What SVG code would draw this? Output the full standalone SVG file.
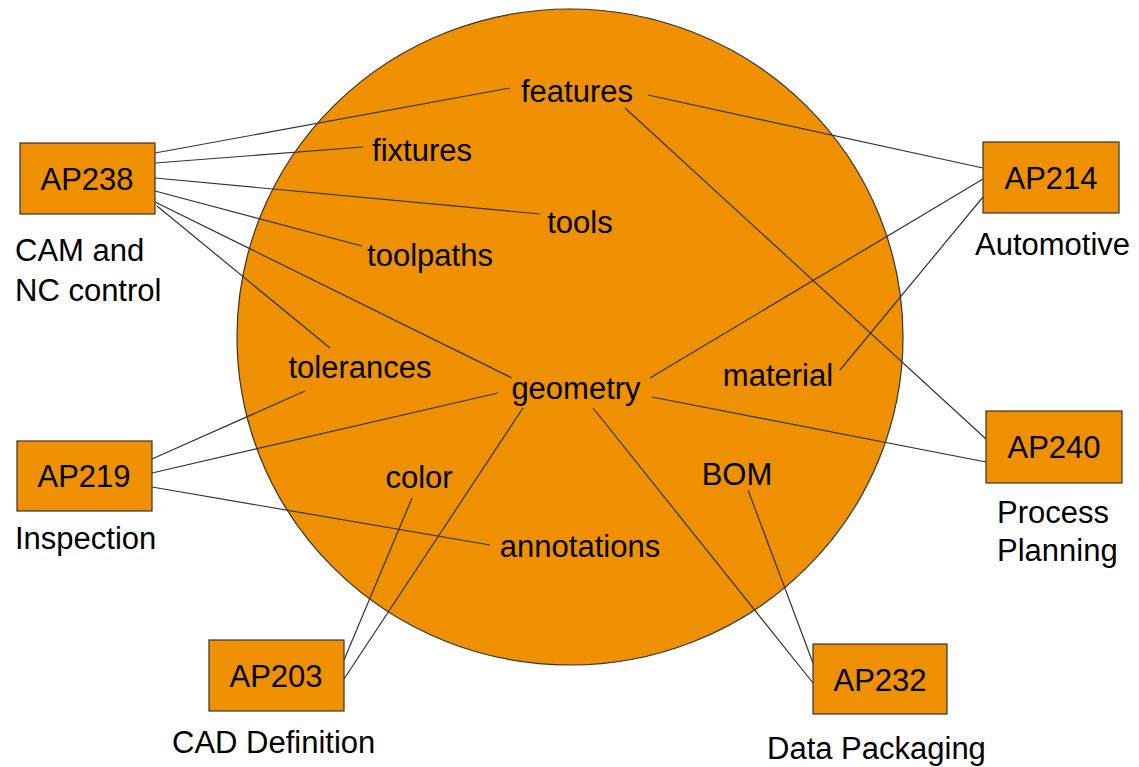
<svg xmlns="http://www.w3.org/2000/svg" width="1139" height="767" viewBox="0 0 1139 767">
<style>
.bg{fill:#fff}
.fill{fill:#EE9000;stroke:#333;stroke-width:1.2}
.box{fill:#EE9000;stroke:#333;stroke-width:1.2}
.c line{stroke:#333;stroke-width:1.2}
text{font-family:"Liberation Sans",Arial,sans-serif;font-size:31px;fill:#000}
.m{text-anchor:middle}
</style>
<rect class="bg" x="0" y="0" width="1139" height="767"/>
<g id="hub">
<ellipse class="fill" cx="570" cy="337" rx="333" ry="328"/>
</g>
<g id="connectors" class="c">
<line x1="155" y1="153" x2="510" y2="88"/>
<line x1="155" y1="163" x2="363" y2="147"/>
<line x1="155" y1="178" x2="540" y2="214"/>
<line x1="155" y1="191" x2="362" y2="246"/>
<line x1="155" y1="202" x2="512" y2="378"/>
<line x1="157" y1="206" x2="330" y2="348"/>
<line x1="648" y1="95" x2="983" y2="168"/>
<line x1="650" y1="378" x2="983" y2="179"/>
<line x1="840" y1="370" x2="983" y2="197"/>
<line x1="625" y1="108" x2="986" y2="439"/>
<line x1="652" y1="397" x2="986" y2="462"/>
<line x1="152" y1="459" x2="305" y2="391"/>
<line x1="152" y1="473" x2="498" y2="393"/>
<line x1="152" y1="487" x2="490" y2="545"/>
<line x1="344" y1="660" x2="412" y2="498"/>
<line x1="344" y1="679" x2="523" y2="408"/>
<line x1="593" y1="408" x2="813" y2="683"/>
<line x1="748" y1="490" x2="813" y2="663"/>
</g>
<g id="topics">
<text class="m" x="577" y="102">features</text>
<text class="m" x="422" y="161">fixtures</text>
<text class="m" x="580" y="233">tools</text>
<text class="m" x="430" y="266">toolpaths</text>
<text class="m" x="360" y="378">tolerances</text>
<text class="m" x="576" y="399">geometry</text>
<text class="m" x="778" y="386">material</text>
<text class="m" x="419" y="488">color</text>
<text class="m" x="737" y="485">BOM</text>
<text class="m" x="580" y="557">annotations</text>
</g>
<g id="ap238">
<rect class="box" x="20" y="143" width="135" height="71"/>
<text class="m" x="87" y="190">AP238</text>
<text x="15" y="261">CAM and</text>
<text x="15" y="301">NC control</text>
</g>
<g id="ap214">
<rect class="box" x="983" y="142" width="136" height="71"/>
<text class="m" x="1051" y="189">AP214</text>
<text x="975" y="255">Automotive</text>
</g>
<g id="ap219">
<rect class="box" x="17" y="441" width="135" height="70"/>
<text class="m" x="84" y="487">AP219</text>
<text x="15" y="549">Inspection</text>
</g>
<g id="ap240">
<rect class="box" x="986" y="411" width="136" height="72"/>
<text class="m" x="1054" y="458">AP240</text>
<text x="997" y="523">Process</text>
<text x="997" y="561">Planning</text>
</g>
<g id="ap203">
<rect class="box" x="209" y="640" width="135" height="71"/>
<text class="m" x="276" y="687">AP203</text>
<text x="172" y="753">CAD Definition</text>
</g>
<g id="ap232">
<rect class="box" x="813" y="644" width="134" height="70"/>
<text class="m" x="880" y="691">AP232</text>
<text x="767" y="759">Data Packaging</text>
</g>
</svg>
